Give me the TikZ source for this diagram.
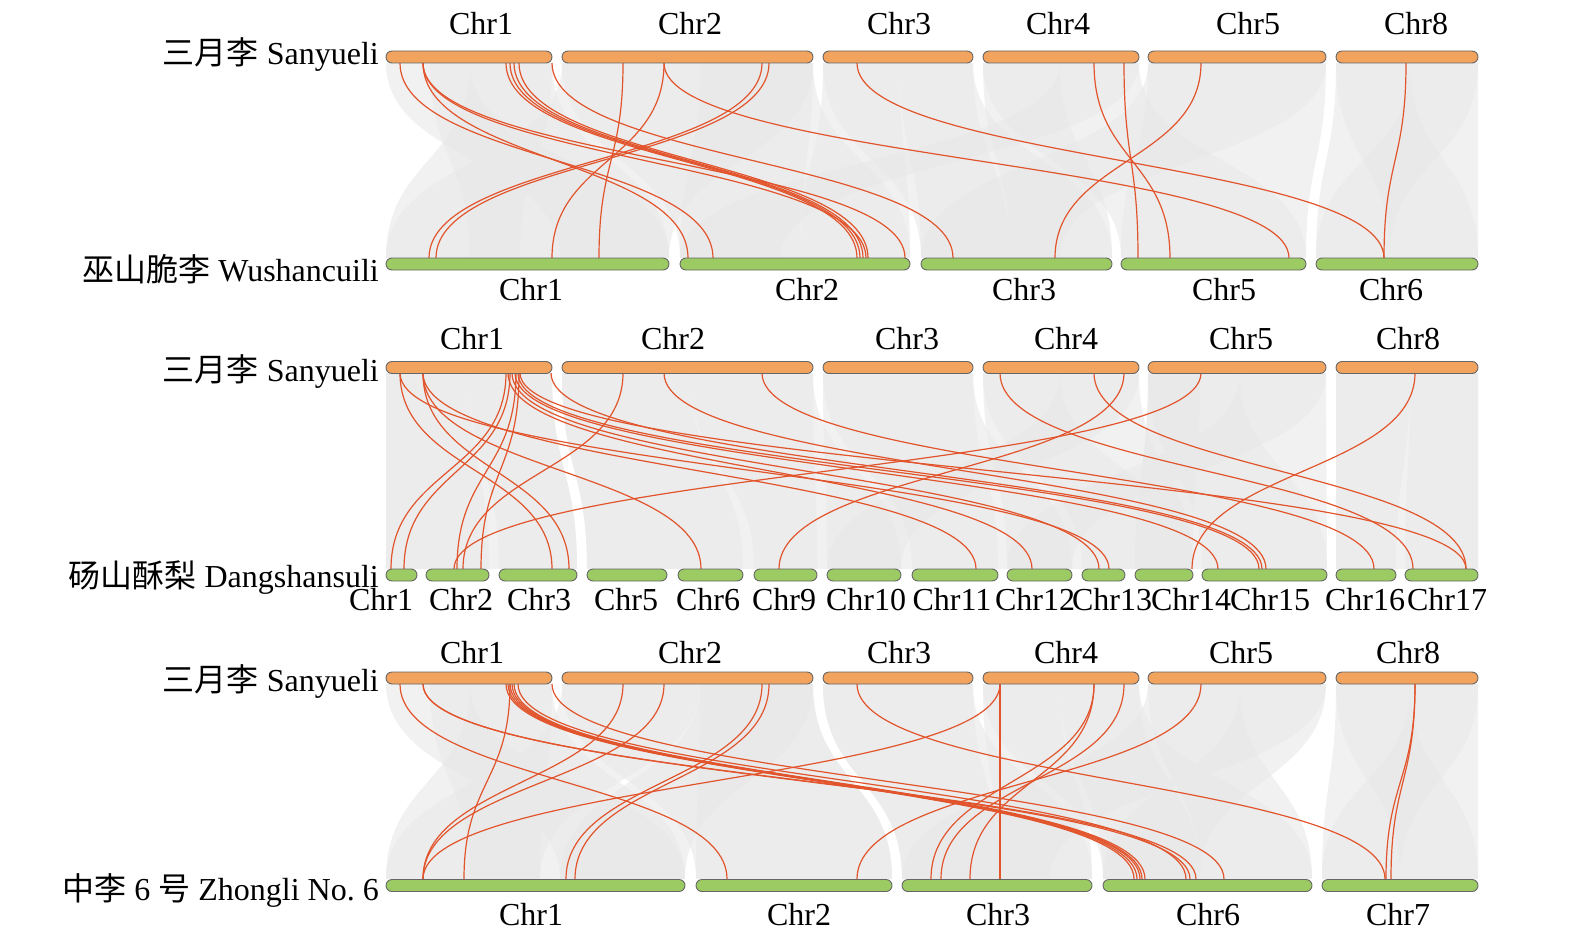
\documentclass[tikz,border=0pt]{standalone}
\usepackage{fontspec}
\setmainfont{Liberation Serif}
\newfontfamily\cjk{Noto Sans CJK SC}
\definecolor{barorange}{HTML}{F2A35E}
\definecolor{bargreen}{HTML}{9CCB64}
\definecolor{linkred}{HTML}{E2542C}

% gray synteny blocks: #1 top y, #2 bottom y, #3 list a1/a2/b1/b2
\newcommand{\blocks}[3]{%
  \foreach \a/\b/\c/\d in {#3}
    \fill[ribbon] (\a,#1) -- (\b,#1) .. controls (\b,{(#1+#2)/2}) and (\d,{(#1+#2)/2}) .. (\d,#2)
      -- (\c,#2) .. controls (\c,{(#1+#2)/2}) and (\a,{(#1+#2)/2}) .. (\a,#1) -- cycle;}
% red gene-pair links: #3 list top/bottom
\newcommand{\pairs}[3]{%
  \foreach \s/\t in {#3}
    \draw[link] (\s,#1) .. controls (\s,{(#1+#2)/2}) and (\t,{(#1+#2)/2}) .. (\t,#2);}

\begin{document}
\begin{tikzpicture}[
    x=1pt, y=-1pt,
    font=\fontsize{32}{36}\selectfont,
    obar/.style={draw=black!60, line width=0.9pt, fill=barorange, rounded corners=6pt, minimum height=12pt, inner sep=0pt},
    gbar/.style={obar, fill=bargreen},
    link/.style={draw=linkred, line width=1.2pt},
    ribbon/.style={fill=black!9, fill opacity=0.6},
    chr/.style={anchor=base, inner sep=0pt},
    species/.style={anchor=base east, inner sep=0pt}
]
\useasboundingbox (0,0) rectangle (1579,950);

%% Sanyueli vs Wushancuili
\blocks{63}{258}{386/470/560/669, 470/552/386/520, 562/700/386/560, 700/813/680/800,
  823/900/800/910, 900/973/921/1010, 983/1060/1010/1112, 1060/1139/680/780,
  1148/1240/1121/1220, 1240/1326/1220/1306, 1336/1410/1390/1478, 1410/1478/1316/1390,
  430/552/470/669, 562/813/680/910, 823/973/921/1112, 983/1139/1121/1306,
  1148/1326/921/1060, 1336/1478/1316/1478, 700/813/560/669}
\pairs{63}{258}{400/713, 423/688, 423/905, 423/866, 506/857, 510/860, 514/863, 519/868,
  552/953, 623/599, 664/552, 664/1289, 762/429, 769/436, 857/1384, 1094/1170,
  1124/1138, 1201/1055, 1406/1384}
\foreach \a/\b/\n in {386/552/1, 562/813/2, 823/973/3, 983/1139/4, 1148/1326/5, 1336/1478/8}
  \node[obar, minimum width={\b-\a}] (at\n) at ({(\a+\b)/2},57) {};
\foreach \a/\b/\n in {386/669/1, 680/910/2, 921/1112/3, 1121/1306/5, 1316/1478/6}
  \node[gbar, minimum width={\b-\a}] (ab\n) at ({(\a+\b)/2},264) {};
\foreach \x/\n in {481/1, 690/2, 899/3, 1058/4, 1248/5, 1416/8}
  \node[chr] (atl\n) at (\x,35) {Chr\n};
\foreach \x/\n in {531/1, 807/2, 1024/3, 1224/5, 1391/6}
  \node[chr] (abl\n) at (\x,300) {Chr\n};
\node[species] (sanA) at (379,65) {{\cjk 三月李} Sanyueli};
\node[species] (wushan) at (379,281) {{\cjk 巫山脆李} Wushancuili};

%% Sanyueli vs Dangshansuli
\blocks{373}{569}{386/470/386/489, 470/552/499/577, 562/690/587/743, 690/813/754/901,
  823/973/912/1072, 983/1060/1082/1193, 1060/1139/827/901, 1148/1240/1202/1327,
  1240/1326/1007/1072, 1336/1410/1336/1396, 1410/1478/1405/1478, 1148/1200/1135/1193,
  386/552/386/577, 562/813/587/817, 823/973/827/998, 983/1139/1007/1193,
  1148/1326/1135/1327, 1336/1478/1336/1478}
\pairs{373}{569}{400/552, 423/569, 506/391, 510/404, 516/457, 519/481, 623/463, 1201/454,
  423/701, 1124/779, 508/1032, 512/1099, 515/1218, 518/1259, 520/1466, 423/976,
  400/1109, 664/1266, 762/1374, 1000/1413, 1094/1466, 1415/1192, 551/1262}
\foreach \a/\b/\n in {386/552/1, 562/813/2, 823/973/3, 983/1139/4, 1148/1326/5, 1336/1478/8}
  \node[obar, minimum width={\b-\a}] (bt\n) at ({(\a+\b)/2},367.5) {};
\foreach \a/\b/\n in {386/417/1, 426/489/2, 499/577/3, 587/667/5, 678/743/6, 754/817/9,
    827/901/10, 912/998/11, 1007/1072/12, 1082/1125/13, 1135/1193/14, 1202/1327/15,
    1336/1396/16, 1405/1478/17}
  \node[gbar, minimum width={\b-\a}] (bb\n) at ({(\a+\b)/2},575) {};
\foreach \x/\n in {472/1, 673/2, 907/3, 1066/4, 1241/5, 1408/8}
  \node[chr] (btl\n) at (\x,349) {Chr\n};
\foreach \x/\n in {381/1, 461/2, 539/3, 626/5, 708/6, 784/9, 866/10, 952/11, 1035/12,
    1112/13, 1191/14, 1270/15, 1365/16, 1447/17}
  \node[chr] (bbl\n) at (\x,610) {Chr\n};
\node[species] (sanB) at (379,381) {{\cjk 三月李} Sanyueli};
\node[species] (dangshan) at (379,587) {{\cjk 砀山酥梨} Dangshansuli};

%% Sanyueli vs Zhongli No. 6
\blocks{684}{879}{386/470/560/685, 470/552/386/540, 562/700/386/540, 700/813/696/892,
  823/973/902/1000, 983/1060/1000/1092, 1060/1139/1103/1200, 1148/1240/1200/1312,
  1240/1326/1103/1200, 1336/1410/1400/1478, 1410/1478/1322/1400,
  430/552/470/685, 562/813/696/892, 823/973/902/1092, 983/1139/1103/1312,
  1148/1326/902/1050, 1336/1478/1322/1478, 700/813/560/685}
\pairs{684}{879}{400/727, 423/1190, 423/1196, 506/1134, 508/1137, 510/1140, 512/1142,
  514/1145, 518/1186, 510/464, 552/1224, 623/423, 664/423, 762/566, 769/575,
  857/1385, 1000/1000, 1000/423, 1094/931, 1094/970, 1124/941, 1201/857,
  1415/1386, 1415/1391}
\foreach \a/\b/\n in {386/552/1, 562/813/2, 823/973/3, 983/1139/4, 1148/1326/5, 1336/1478/8}
  \node[obar, minimum width={\b-\a}] (ct\n) at ({(\a+\b)/2},678) {};
\foreach \a/\b/\n in {386/685/1, 696/892/2, 902/1092/3, 1103/1312/6, 1322/1478/7}
  \node[gbar, minimum width={\b-\a}] (cb\n) at ({(\a+\b)/2},885.5) {};
\foreach \x/\n in {472/1, 690/2, 899/3, 1066/4, 1241/5, 1408/8}
  \node[chr] (ctl\n) at (\x,663) {Chr\n};
\foreach \x/\n in {531/1, 799/2, 998/3, 1208/6, 1398/7}
  \node[chr] (cbl\n) at (\x,925) {Chr\n};
\node[species] (sanC) at (379,691) {{\cjk 三月李} Sanyueli};
\node[species] (zhongli) at (379,900) {{\cjk 中李} 6 {\cjk 号} Zhongli No.~6};
\end{tikzpicture}
\end{document}
